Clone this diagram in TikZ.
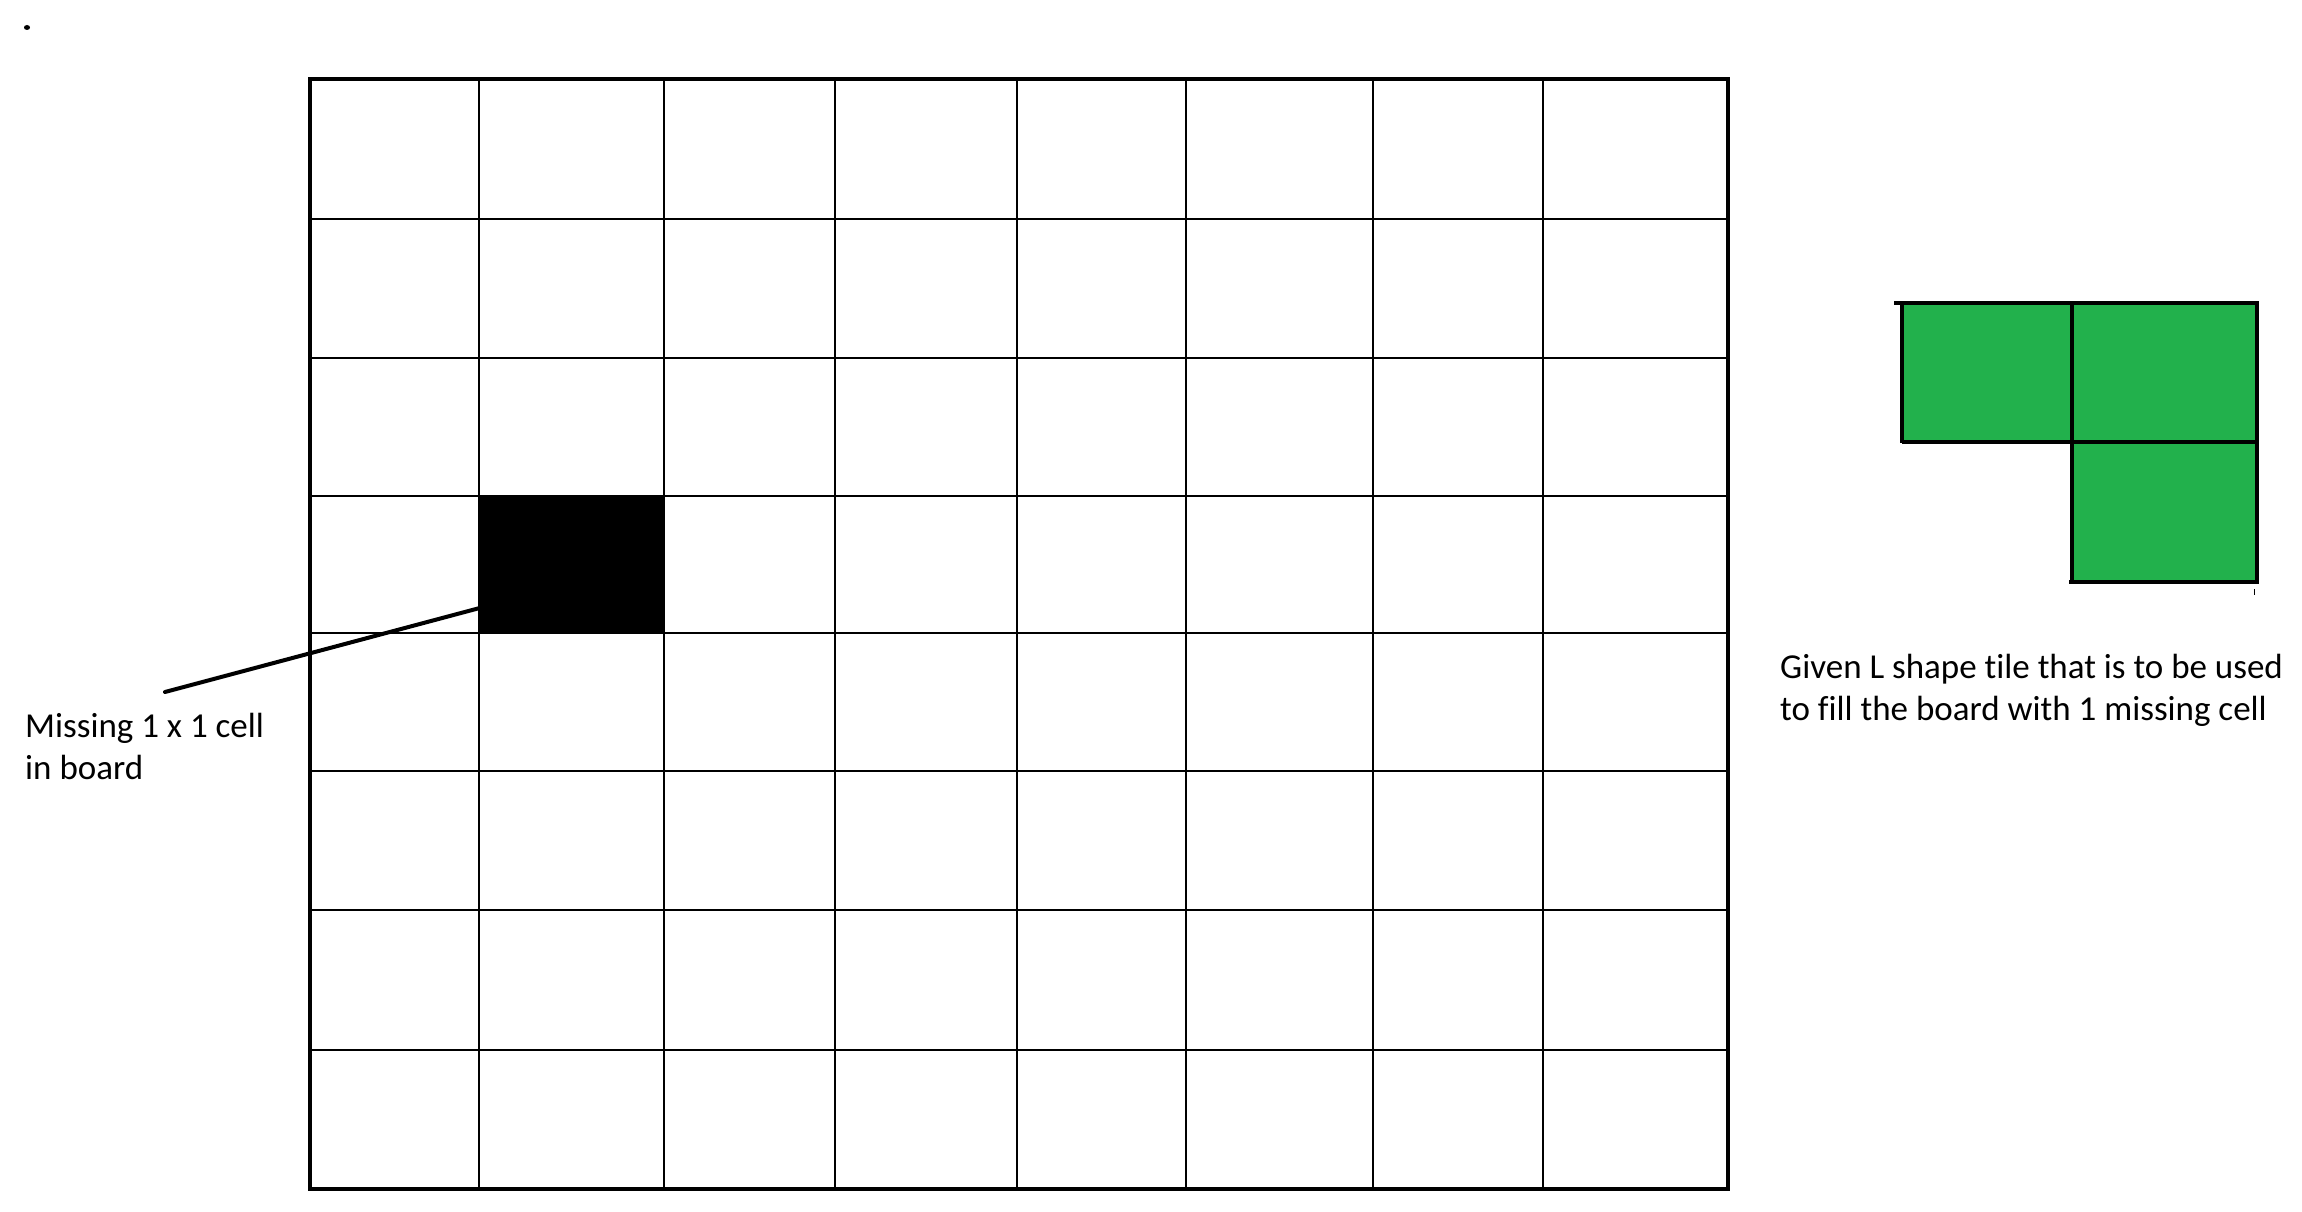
\documentclass[tikz,border=0pt]{standalone}
\usepackage{fontspec}
\setmainfont{Carlito}[Ligatures=NoCommon]
\definecolor{tilegreen}{RGB}{34,177,76}
\begin{document}
\begin{tikzpicture}[x=1pt,y=-1pt,
  gridline/.style={line width=2.6pt,black},
  outerline/.style={line width=3.2pt,black},
  tileline/.style={line width=3.4pt,black},
  leader/.style={line width=4pt,black,line cap=round},
  labeltext/.style={font=\fontsize{35}{42.6}\selectfont,align=left,inner sep=0pt,anchor=base west}]
\useasboundingbox (0,0) rectangle (2302,1212);
\fill[white] (0,0) rectangle (2302,1212);
% small dot
\fill[black] (27,27.5) ellipse (3pt and 2.5pt);
% missing cell
\node[fill=black,inner sep=0pt,minimum width=185pt,minimum height=137pt,anchor=north west] (black) at (479,496) {};
% grid
\foreach \x in {479,664,835,1017,1186,1373,1543}
  \draw[gridline] (\x,79) -- (\x,1189);
\foreach \y in {219,358,496,633,771,910,1050}
  \draw[gridline] (310,\y) -- (1728,\y);
\draw[outerline] (310,79) rectangle (1728,1189);
% leader + label
\coordinate (lstart) at (165,692);
\draw[leader] (lstart) -- ([yshift=-43.5pt]black.west);
\node[labeltext] (missing) at (25,779.6) {Missing 1 x 1 cell\\in board};
% L tile
\fill[tilegreen] (1902,303) -- (2257,303) -- (2257,582) -- (2072,582) -- (2072,442) -- (1902,442) -- cycle;
\draw[tileline] (1894,303) -- (2257,303) -- (2257,582) -- (2069,582);
\draw[tileline] (1902,303) -- (1902,443);
\draw[tileline] (1902,442) -- (2257,442);
\draw[tileline] (2072,303) -- (2072,584);
\draw[line width=1pt] (2254,589) -- (2254,595);
\node[labeltext] (given) at (1780,720.6) {Given L shape tile that is to be used\\to fill the board with 1 missing cell};
\end{tikzpicture}
\end{document}
